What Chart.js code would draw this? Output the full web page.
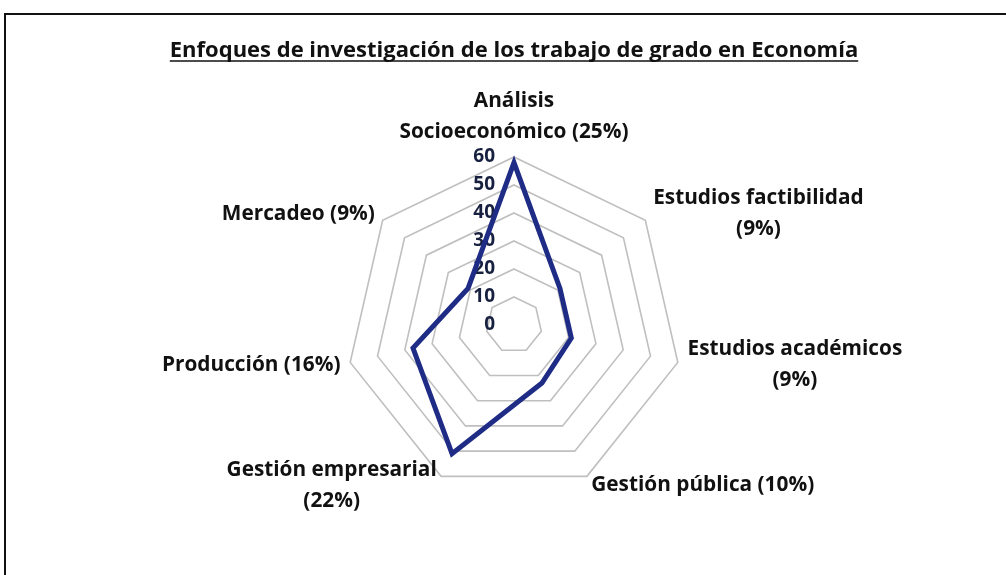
<!DOCTYPE html>
<html>
<head>
<meta charset="utf-8">
<script src="https://cdn.jsdelivr.net/npm/chart.js@4.4.1/dist/chart.umd.min.js"></script>
<style>
  html, body { margin: 0; padding: 0; background: #fff; overflow: hidden; }
  #frame { position: absolute; left: 4px; top: 13px; width: 1100px; height: 700px;
           border-top: 2px solid #111; border-left: 2px solid #111; }
  #wrap { position: absolute; left: 0; top: 0; width: 1006px; height: 575px; }
</style>
</head>
<body>
<div id="frame"></div>
<div id="wrap"><canvas id="radar-chart"></canvas></div>
<script>
// chart data
const chartTitle = 'Enfoques de investigación de los trabajo de grado en Economía';
const categories = [
  ['Análisis', 'Socioeconómico (25%)'],
  ['Estudios factibilidad', '(9%)'],
  ['Estudios académicos', '(9%)'],
  ['Gestión pública (10%)'],
  ['Gestión empresarial', '(22%)'],
  ['Producción (16%)'],
  ['Mercadeo (9%)']
];
const values = [58, 21, 21, 23, 51, 37, 21];
const tickMin = 0;
const tickMax = 60;
const tickStep = 10;

const fontFamily = '"Open Sans", "Noto Sans", sans-serif';
const lineColor = '#1f2c86';
const tickColor = '#17213f';

// draws tick numbers left of the axis, point labels centred in their block, title underline
const radarText = {
    id: 'radarText',
    beforeDatasetsDraw(chart) {
        let scale = chart.scales.r;
        let ctx = chart.ctx;
        ctx.save();
        ctx.font = 'bold 19px ' + fontFamily;
        ctx.fillStyle = tickColor;
        ctx.textAlign = 'right';
        ctx.textBaseline = 'middle';
        scale.ticks.forEach(t => {
            let y = scale.yCenter - scale.getDistanceFromCenterForValue(t.value);
            ctx.fillText(String(t.value), scale.xCenter - 19, y);
        });
        ctx.restore();
    },
    afterDraw(chart) {
        let scale = chart.scales.r;
        let ctx = chart.ctx;
        ctx.save();
        ctx.font = 'bold 20.8px ' + fontFamily;
        ctx.fillStyle = '#111';
        ctx.textAlign = 'center';
        ctx.textBaseline = 'middle';
        let lh = 31;
        categories.forEach((lines, i) => {
            let p = scale.getPointPosition(i, scale.drawingArea + 10);
            let dx = p.x - scale.xCenter;
            let w = Math.max(...lines.map(l => ctx.measureText(l).width));
            let left;
            if (Math.abs(dx) < 2) left = p.x - w / 2;
            else if (dx > 0) left = p.x;
            else left = p.x - w;
            let firstY;
            if (Math.abs(dx) < 2 && p.y < scale.yCenter) firstY = p.y - lh / 2 - (lines.length - 1) * lh + 1;
            else firstY = p.y - (lines.length - 1) * lh / 2;
            lines.forEach((l, k) => ctx.fillText(l, left + w / 2, firstY + k * lh));
        });
        // underline the title
        let tb = chart.titleBlock;
        ctx.font = 'bold 22px ' + fontFamily;
        let tw = ctx.measureText(chartTitle).width;
        let cx = (tb.left + tb.right) / 2;
        let uy = tb.top + tb.options.padding.top + 23;
        ctx.strokeStyle = '#111';
        ctx.lineWidth = 1.5;
        ctx.beginPath();
        ctx.moveTo(cx - tw / 2, uy);
        ctx.lineTo(cx + tw / 2, uy);
        ctx.stroke();
        ctx.restore();
    }
};

function plot_radar() {
    let ctx = document.getElementById('radar-chart');
    new Chart(ctx, {
        type: 'radar',
        data: {
            labels: categories,
            datasets: [
                {
                    label: 'Trabajos',
                    data: values,
                    fill: false,
                    borderColor: lineColor,
                    borderWidth: 5,
                    pointRadius: 0,
                    pointHoverRadius: 0,
                    tension: 0,
                },
            ],
        },
        options: {
            responsive: true,
            maintainAspectRatio: false,
            animation: false,
            layout: { padding: { left: 30, right: 8, top: 0, bottom: 82 } },
            scales: {
                r: {
                    min: tickMin,
                    max: tickMax,
                    ticks: { stepSize: tickStep, display: false },
                    grid: { color: '#bfbfbf', lineWidth: 1.6, circular: false },
                    angleLines: { display: false },
                    pointLabels: { display: false },
                },
            },
            plugins: {
                legend: { display: false },
                tooltip: { enabled: false },
                title: {
                    display: true,
                    text: chartTitle,
                    color: '#111',
                    font: { size: 22, weight: 'bold', family: fontFamily, lineHeight: 1.2 },
                    padding: { top: 38, bottom: 92.6 },
                },
            },
        },
        plugins: [radarText],
    });
}
plot_radar();
</script>
</body>
</html>
